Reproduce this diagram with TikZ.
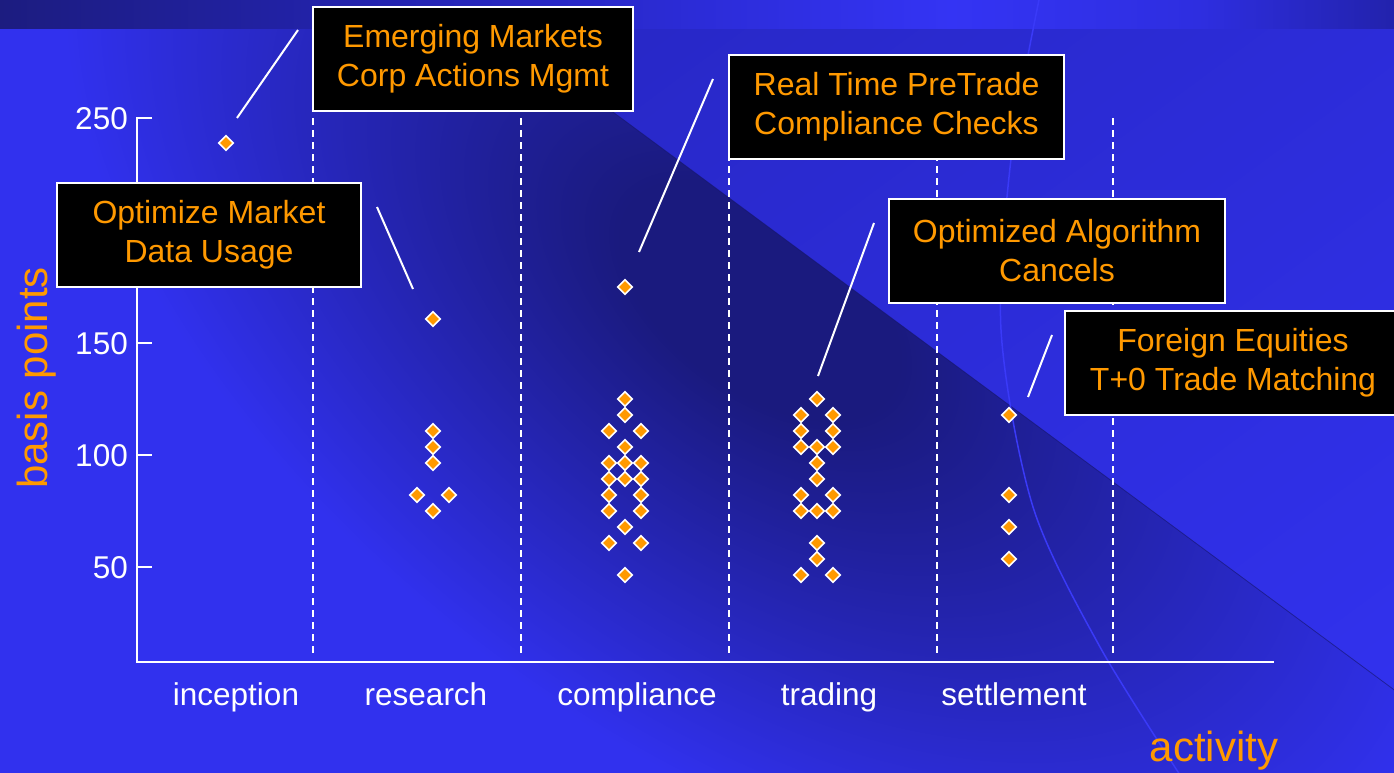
\documentclass[tikz,border=0pt]{standalone}
\usepackage{fontspec}
\setmainfont{Liberation Sans}
\usetikzlibrary{shapes.geometric,shadings}
\definecolor{dk}{HTML}{1A1A7E}
\definecolor{bgc}{HTML}{3131EE}
\definecolor{org}{HTML}{FF9900}
\definecolor{arcc}{HTML}{3A3AF8}
\definecolor{b0}{HTML}{1C1C80}
\definecolor{b1}{HTML}{2222A8}
\definecolor{b2}{HTML}{2C2CD8}
\definecolor{b3}{HTML}{3434F4}
\definecolor{b4}{HTML}{2E2EE0}
\definecolor{b5}{HTML}{2222AC}
\definecolor{ul}{HTML}{2424B8}
\definecolor{ur}{HTML}{2C2CD8}
\definecolor{ll}{HTML}{2A2AD0}
\definecolor{lr}{HTML}{3232F0}
\definecolor{edgec}{HTML}{15156A}
\pgfdeclareradialshading{spot}{\pgfpoint{0bp}{0bp}}{color(0bp)=(dk); color(5bp)=(dk); color(25bp)=(bgc); color(50bp)=(bgc)}
\pgfdeclarehorizontalshading{band}{100bp}{color(0bp)=(b0); color(25bp)=(b0); color(36.5bp)=(b1); color(50.1bp)=(b2); color(59.1bp)=(b3); color(68bp)=(b4); color(75bp)=(b5); color(100bp)=(b5)}
\begin{document}
\begin{tikzpicture}[x=1pt,y=-1pt,
  lbox/.style={draw=white, line width=2pt, fill=black, text=org, align=center, inner sep=0pt, minimum height=104pt, font=\fontsize{32}{39}\selectfont},
  dpt/.style={diamond, draw=white, line width=1.6pt, fill=org, inner sep=0pt, minimum width=15pt, minimum height=15pt},
  lead/.style={draw=white, line width=2pt},
  vline/.style={draw=white, line width=2pt, dash pattern=on 7pt off 5pt},
  axisln/.style={draw=white, line width=2pt},
  num/.style={text=white, font=\fontsize{31.5}{36}\selectfont, inner sep=0pt, anchor=base east},
  cat/.style={text=white, font=\fontsize{31.5}{36}\selectfont, inner sep=0pt, anchor=base},
  ttl/.style={text=org, font=\fontsize{42}{48}\selectfont, inner sep=0pt, anchor=base}]
\useasboundingbox (0,0) rectangle (1394,773);
\clip (0,0) rectangle (1394,773);
% background
\shade[upper left=ul, upper right=ur, lower left=ll, lower right=lr] (0,0) rectangle (1394,773);
\begin{scope}
  \clip (-10,-10) -- (448,-10) -- (1420,709) -- (1420,800) -- (-10,800) -- cycle;
  \fill[bgc] (-10,-10) rectangle (1420,800);
  \begin{scope}[transform canvas={rotate around={-36.5:(760,300)}}]
    \shade[shading=spot] (760,300) ellipse [x radius=800, y radius=450];
  \end{scope}
\end{scope}
\draw[edgec, line width=0.8pt, opacity=0.6] (448,-10) -- (1420,709);
\shade[shading=band] (0,0) rectangle (1394,29);
\draw[arcc, line width=1.5pt] plot[smooth] coordinates {(1040,-5) (1012,150) (1001,330) (1033,507) (1100,647) (1182,778)};
% grid lines
\foreach \gx in {313,521,729,937,1113} \draw[vline] (\gx,118) -- (\gx,657);
% axes
\draw[axisln] (152,118) -- (137,118) -- (137,662) -- (1274,662);
\foreach \ty in {343,455,567} \draw[axisln] (137,\ty) -- (152,\ty);
\node[num] (n250) at (128,129) {250};
\node[num] (n150) at (128,354) {150};
\node[num] (n100) at (128,466) {100};
\node[num] (n50) at (128,578) {50};
\node[cat] (c1) at (236,705) {inception};
\node[cat] (c2) at (426,705) {research};
\node[cat] (c3) at (637,705) {compliance};
\node[cat] (c4) at (829,705) {trading};
\node[cat] (c5) at (1014,705) {settlement};
\node[ttl, rotate=90] (ylab) at (47,378) {basis points};
\node[ttl] (xlab) at (1214,761) {activity};
% data points
\foreach \px/\py [count=\i] in {226/143,
  433/319, 433/431, 433/447, 433/463, 417/495, 449/495, 433/511,
  625/287, 625/399, 625/415, 609/431, 641/431, 625/447, 609/463, 625/463, 641/463,
  609/479, 625/479, 641/479, 609/495, 641/495, 609/511, 641/511, 625/527, 609/543, 641/543, 625/575,
  817/399, 801/415, 833/415, 801/431, 833/431, 801/447, 817/447, 833/447, 817/463, 817/479,
  801/495, 833/495, 801/511, 817/511, 833/511, 817/543, 817/559, 801/575, 833/575,
  1009/415, 1009/495, 1009/527, 1009/559}
  \node[dpt] (d\i) at (\px,\py) {};
% leader lines
\coordinate (l1a) at (237,118); \coordinate (l1b) at (298,30);
\coordinate (l2a) at (377,207); \coordinate (l2b) at (413,289);
\coordinate (l3a) at (639,252); \coordinate (l3b) at (713,79);
\coordinate (l4a) at (818,376); \coordinate (l4b) at (874,223);
\coordinate (l5a) at (1028,397); \coordinate (l5b) at (1052,335);
\draw[lead] (l1a) -- (l1b);
\draw[lead] (l2a) -- (l2b);
\draw[lead] (l3a) -- (l3b);
\draw[lead] (l4a) -- (l4b);
\draw[lead] (l5a) -- (l5b);
% call-out boxes
\node[lbox, minimum width=320pt] (b1) at (473,59) {Emerging Markets\\Corp Actions Mgmt};
\node[lbox, minimum width=304pt] (b2) at (209,235) {Optimize Market\\Data Usage};
\node[lbox, minimum width=335pt] (b3) at (896.5,107) {Real Time PreTrade\\Compliance Checks};
\node[lbox, minimum width=336pt] (b4) at (1057,251) {Optimized Algorithm\\Cancels};
\node[lbox, minimum width=336pt] (b5) at (1233,363) {Foreign Equities\\T+0 Trade Matching};
\end{tikzpicture}
\end{document}
